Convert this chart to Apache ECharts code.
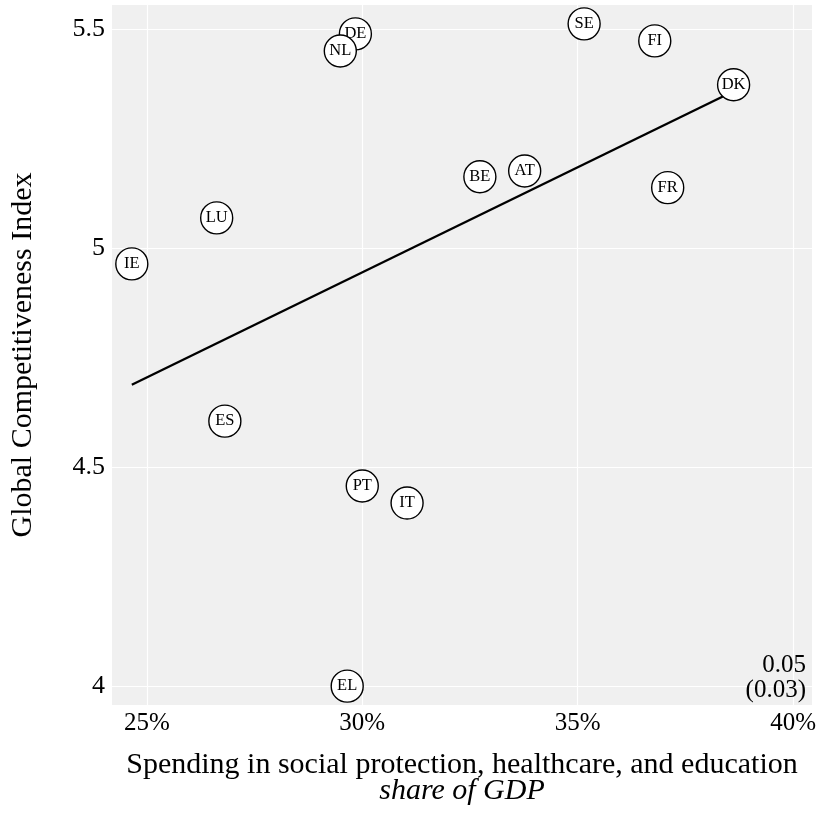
<!DOCTYPE html>
<html>
<head>
<meta charset="utf-8">
<script src="https://cdn.jsdelivr.net/npm/echarts@6/dist/echarts.min.js"></script>
<style>
  html, body { margin: 0; padding: 0; background: #fff; }
  #chart { width: 820px; height: 814px; }
</style>
</head>
<body>
<div id="chart"></div>
<script>
// Country codes, spending share of GDP (%) and Global Competitiveness Index
const countries = ['IE', 'LU', 'DE', 'NL', 'SE', 'FI', 'DK', 'BE', 'AT', 'FR', 'ES', 'PT', 'IT', 'EL'];
const spending  = [24.65, 26.62, 29.84, 29.49, 35.15, 36.79, 38.62, 32.73, 33.77, 37.09, 26.81, 30.00, 31.04, 29.65];
const gci       = [4.964, 5.069, 5.489, 5.450, 5.512, 5.473, 5.373, 5.163, 5.176, 5.138, 4.605, 4.457, 4.418, 4.000];

// Fitted line end points (spending %, index)
const fitX = [24.65, 38.62];
const fitY = [4.688, 5.358];

// Slope estimate and its standard error
const slopeText = ['0.05', '(0.03)'];

// Tick values
const xTicks = [25, 30, 35, 40];
const yTicks = [4, 4.5, 5, 5.5];

const serif = '"Liberation Serif", "DejaVu Serif", serif';

const chart = echarts.init(document.getElementById('chart'), null, { renderer: 'canvas' });

// One series per country so later circles cover earlier labels
const pointSeries = countries.map((c, i) => ({
  type: 'scatter',
  name: c,
  z: 10 + i,
  symbol: 'circle',
  symbolSize: 32,
  data: [{ name: c, value: [spending[i], gci[i]] }],
  itemStyle: { color: '#ffffff', borderColor: '#000000', borderWidth: 1.4, opacity: 1 },
  label: {
    show: true,
    position: 'inside',
    formatter: '{b}',
    color: '#000',
    fontFamily: serif,
    fontSize: 16.5
  },
  emphasis: { disabled: true },
  silent: true
}));

chart.setOption({
  animation: false,
  backgroundColor: '#ffffff',
  grid: {
    left: 110, right: 8, top: 5, bottom: 109,
    show: true, backgroundColor: '#f0f0f0', borderWidth: 0
  },
  xAxis: {
    type: 'value',
    min: 24.19, max: 40.44,
    axisLine: { show: false },
    axisTick: { show: false, customValues: xTicks },
    splitLine: { show: true, lineStyle: { color: '#ffffff', width: 1.2 } },
    axisLabel: {
      customValues: xTicks,
      formatter: v => v + '%',
      color: '#000', fontFamily: serif, fontSize: 25, margin: 6
    },
    name: '{a|Spending in social protection, healthcare, and education}\n{b|share of GDP}',
    nameLocation: 'middle',
    nameGap: 47,
    nameTextStyle: {
      rich: {
        a: { fontFamily: serif, fontSize: 30, color: '#000', lineHeight: 26 },
        b: { fontFamily: serif, fontSize: 30, fontStyle: 'italic', color: '#000', lineHeight: 26 }
      }
    }
  },
  yAxis: {
    type: 'value',
    min: 3.957, max: 5.555,
    axisLine: { show: false },
    axisTick: { show: false, customValues: yTicks },
    splitLine: { show: true, lineStyle: { color: '#ffffff', width: 1.2 } },
    axisLabel: {
      customValues: yTicks,
      color: '#000', fontFamily: serif, fontSize: 26, margin: 7
    },
    name: 'Global Competitiveness Index',
    nameLocation: 'middle',
    nameRotate: 90,
    nameGap: 74,
    nameTextStyle: { fontFamily: serif, fontSize: 30, color: '#000' }
  },
  graphic: slopeText.map((t, i) => ({
    type: 'text',
    right: 14,
    top: 653 + i * 25,
    z: 1,
    style: {
      text: t,
      fontFamily: serif,
      fontSize: 25,
      fill: '#000'
    }
  })),
  series: [{
    type: 'line',
    z: 5,
    data: fitX.map((x, i) => [x, fitY[i]]),
    symbol: 'none',
    lineStyle: { color: '#000', width: 2.4 },
    silent: true
  }].concat(pointSeries)
});
</script>
</body>
</html>
